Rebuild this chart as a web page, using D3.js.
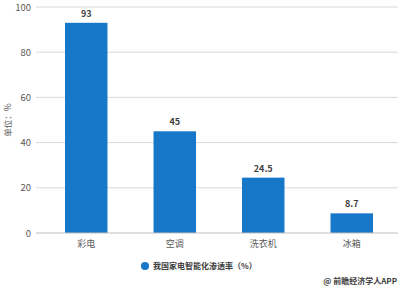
<!DOCTYPE html>
<html>
<head>
  <script src="https://d3js.org/d3.v7.min.js"></script>
  <style>
    body, html { margin: 0; padding: 0; background: #fff; overflow: hidden; }
    text { font-family: "Noto Sans CJK SC", "Microsoft YaHei", sans-serif; }
  </style>
</head>
<body>
  <div id="chart"></div>
  <script>
    // data
    const categories = ["彩电", "空调", "洗衣机", "冰箱"];
    const values = [93, 45, 24.5, 8.7];
    const valueLabels = ["93", "45", "24.5", "8.7"];
    const yTicks = [0, 20, 40, 60, 80, 100];
    const seriesName = "我国家电智能化渗透率（%）";

    const width = 400, height = 288;
    const svg = d3.select("#chart").append("svg")
      .attr("width", width).attr("height", height);

    const x = d3.scaleBand().domain(categories).range([42, 396]).paddingInner(0.52).paddingOuter(0.26);
    const y = d3.scaleLinear().domain([0, 100]).range([233, 7]);

    // gridlines
    svg.append("g").selectAll("line").data(yTicks.filter(d => d > 0)).join("line")
      .attr("x1", 36).attr("x2", 398)
      .attr("y1", d => y(d)).attr("y2", d => y(d))
      .attr("stroke", "#d9d9d9").attr("stroke-width", 1);

    // y tick labels
    svg.append("g").selectAll("text").data(yTicks).join("text")
      .attr("x", 31).attr("y", d => y(d) + 3.5)
      .attr("text-anchor", "end")
      .attr("font-size", 9.5).attr("fill", "#595959")
      .text(d => d);

    // y title
    svg.append("text")
      .attr("transform", "translate(11,120) rotate(-90)")
      .attr("text-anchor", "middle")
      .attr("font-size", 8.5).attr("fill", "#595959")
      .text("单位：%");

    // bars
    svg.append("g").selectAll("rect").data(values).join("rect")
      .attr("x", (d, i) => x(categories[i]))
      .attr("width", x.bandwidth())
      .attr("y", d => y(d))
      .attr("height", d => y(0) - y(d))
      .attr("fill", "#1777c9");

    // x axis line
    svg.append("line")
      .attr("x1", 36).attr("x2", 398).attr("y1", y(0)).attr("y2", y(0))
      .attr("stroke", "#bfbfbf").attr("stroke-width", 1);

    // value labels
    svg.append("g").selectAll("text").data(values).join("text")
      .attr("x", (d, i) => x(categories[i]) + x.bandwidth() / 2)
      .attr("y", d => y(d) - 6)
      .attr("text-anchor", "middle")
      .attr("font-size", 9).attr("font-weight", "bold").attr("fill", "#404040")
      .text((d, i) => valueLabels[i]);

    // category labels
    svg.append("g").selectAll("text").data(categories).join("text")
      .attr("x", d => x(d) + x.bandwidth() / 2)
      .attr("y", 247)
      .attr("text-anchor", "middle")
      .attr("font-size", 9).attr("fill", "#595959")
      .text(d => d);

    // legend
    svg.append("circle").attr("cx", 145).attr("cy", 266).attr("r", 4).attr("fill", "#1777c9");
    svg.append("text").attr("x", 153).attr("y", 269)
      .attr("font-size", 8).attr("font-weight", "bold").attr("fill", "#404040")
      .text(seriesName);

    // source
    svg.append("text").attr("x", 397).attr("y", 284)
      .attr("text-anchor", "end")
      .attr("font-size", 8).attr("font-weight", "bold").attr("fill", "#404040")
      .text("@ 前瞻经济学人APP");
  </script>
</body>
</html>
